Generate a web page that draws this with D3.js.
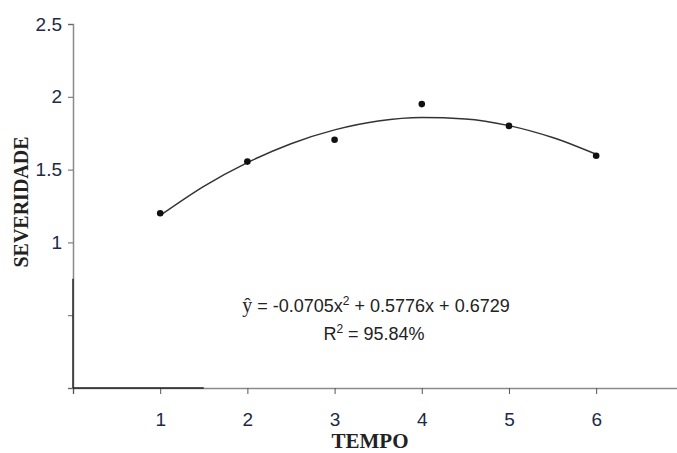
<!DOCTYPE html>
<html>
<head>
<meta charset="utf-8">
<script src="https://cdn.jsdelivr.net/npm/d3@7"></script>
<style>
  body { margin: 0; background: #fff; }
  svg { display: block; }
</style>
</head>
<body>
<div id="chart"></div>
<script>
// observed points (TEMPO vs SEVERIDADE)
const tempo = [1, 2, 3, 4, 5, 6];
const severidade = [1.20, 1.555, 1.705, 1.95, 1.80, 1.595];

// fitted curve at half steps
const fitX = [1, 1.5, 2, 2.5, 3, 3.5, 4, 4.5, 5, 5.5, 6];
const fitY = [1.185, 1.385, 1.548, 1.678, 1.773, 1.834, 1.858, 1.848, 1.802, 1.72, 1.605];

const yTicks = [0, 0.5, 1, 1.5, 2, 2.5];
const yTickLabels = ["", "", "1", "1.5", "2", "2.5"];
const xTicks = [0, 1, 2, 3, 4, 5, 6];
const xTickLabels = ["", "1", "2", "3", "4", "5", "6"];

const eqText = "= -0.0705x";
const r2Text = "R";

const width = 677, height = 453;

const svg = d3.select("#chart").append("svg")
    .attr("width", width).attr("height", height);

const x = d3.scaleLinear().domain([0, 6.95]).range([73, 679]);
const y = d3.scaleLinear().domain([0, 2.5]).range([388, 24]);

// y axis
const yAxis = svg.append("g")
    .attr("transform", `translate(${x(0)},0)`)
    .call(d3.axisLeft(y).tickValues(yTicks).tickSize(5).tickFormat((d, i) => yTickLabels[i]));
yAxis.select(".domain").attr("stroke", "#8a8a8a").attr("stroke-width", 1.5);
yAxis.selectAll(".tick line").attr("stroke", "#666");
yAxis.selectAll(".tick text")
    .attr("x", -11)
    .attr("font-family", "Liberation Sans, Arial, sans-serif")
    .attr("font-size", 19)
    .attr("fill", "#1c2a48");

// x axis
const xAxis = svg.append("g")
    .attr("transform", `translate(0,${y(0)})`)
    .call(d3.axisBottom(x).tickValues(xTicks).tickSize(6).tickFormat((d, i) => xTickLabels[i]));
xAxis.select(".domain").attr("stroke", "#8a8a8a").attr("stroke-width", 1.5);
xAxis.selectAll(".tick line").attr("stroke", "#555");
xAxis.selectAll(".tick text")
    .attr("y", 25)
    .attr("font-family", "Liberation Sans, Arial, sans-serif")
    .attr("font-size", 19)
    .attr("fill", "#1c2a48");

// darker stretches of axis line near the origin
svg.append("line")
    .attr("x1", x(0)).attr("x2", x(0))
    .attr("y1", y(0.75)).attr("y2", y(0))
    .attr("stroke", "#333").attr("stroke-width", 1.6);
svg.append("line")
    .attr("x1", x(0)).attr("x2", x(1.5))
    .attr("y1", y(0)).attr("y2", y(0))
    .attr("stroke", "#222").attr("stroke-width", 1.6);

// fitted curve
const fit = fitX.map((d, i) => [d, fitY[i]]);
svg.append("path")
    .datum(fit)
    .attr("fill", "none")
    .attr("stroke", "#333")
    .attr("stroke-width", 1.5)
    .attr("d", d3.line().x(d => x(d[0])).y(d => y(d[1])).curve(d3.curveMonotoneX));

// points
svg.selectAll("circle.pt")
    .data(tempo)
    .join("circle")
    .attr("class", "pt")
    .attr("cx", d => x(d))
    .attr("cy", (d, i) => y(severidade[i]))
    .attr("r", 3.3)
    .attr("fill", "#111");

// equation
const eq = svg.append("text")
    .attr("x", 376).attr("y", 312)
    .attr("text-anchor", "middle")
    .attr("font-family", "Liberation Sans, Arial, sans-serif")
    .attr("font-size", 18)
    .attr("fill", "#222");
eq.append("tspan").attr("font-family", "Liberation Serif, Times New Roman, serif").attr("font-size", 20).text("ŷ");
eq.append("tspan").text(" " + eqText);
eq.append("tspan").attr("dy", -7).attr("font-size", 12).text("2");
eq.append("tspan").attr("dy", 7).text(" + 0.5776x + 0.6729");

const r2 = svg.append("text")
    .attr("x", 374).attr("y", 340)
    .attr("text-anchor", "middle")
    .attr("font-family", "Liberation Sans, Arial, sans-serif")
    .attr("font-size", 18)
    .attr("fill", "#222");
r2.append("tspan").text(r2Text);
r2.append("tspan").attr("dy", -7).attr("font-size", 12).text("2");
r2.append("tspan").attr("dy", 7).text(" = 95.84%");

// axis titles
svg.append("text")
    .attr("x", 370).attr("y", 448)
    .attr("text-anchor", "middle")
    .attr("font-family", "Liberation Serif, Times New Roman, serif")
    .attr("font-weight", "bold")
    .attr("font-size", 21)
    .attr("fill", "#222")
    .text("TEMPO");

svg.append("text")
    .attr("transform", "translate(28,202) rotate(-90)")
    .attr("text-anchor", "middle")
    .attr("font-family", "Liberation Serif, Times New Roman, serif")
    .attr("font-weight", "bold")
    .attr("font-size", 20)
    .attr("fill", "#222")
    .text("SEVERIDADE");
</script>
</body>
</html>
